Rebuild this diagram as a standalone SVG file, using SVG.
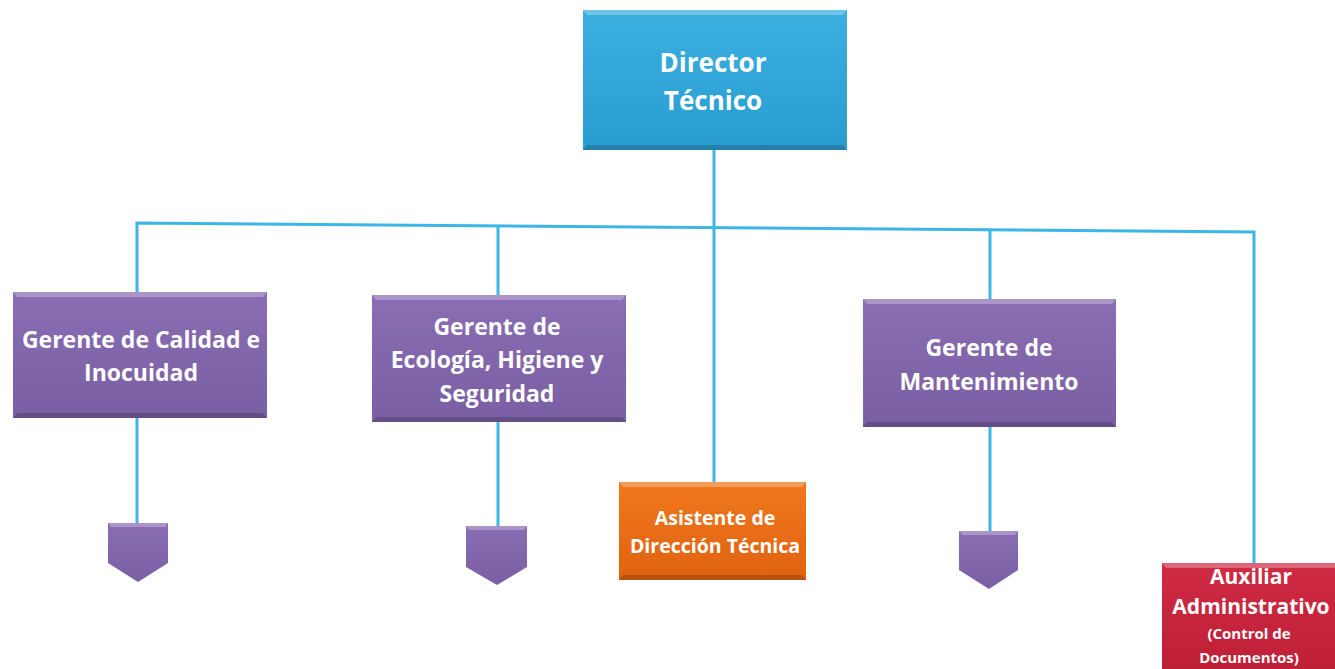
<svg xmlns="http://www.w3.org/2000/svg" width="1335" height="669" viewBox="0 0 1335 669">
<style>
.t{font-family:"Open Sans","Lato","Liberation Sans",sans-serif;font-weight:bold;fill:#ffffff;text-anchor:middle}
.c{stroke:#3cb6e6;stroke-width:3;fill:none}
.hl{fill:#ffffff;opacity:0.28}
.sh{fill:#000000;opacity:0.18}
</style>
<defs>
<linearGradient id="gb" x1="0" y1="0" x2="0" y2="1"><stop offset="0" stop-color="#3aafe0"/><stop offset="1" stop-color="#2a9dd0"/></linearGradient>
<linearGradient id="gp" x1="0" y1="0" x2="0" y2="1"><stop offset="0" stop-color="#8a6db2"/><stop offset="1" stop-color="#7a5fa5"/></linearGradient>
<linearGradient id="go" x1="0" y1="0" x2="0" y2="1"><stop offset="0" stop-color="#f0781c"/><stop offset="1" stop-color="#e0620f"/></linearGradient>
<linearGradient id="gr" x1="0" y1="0" x2="0" y2="1"><stop offset="0" stop-color="#d02a44"/><stop offset="1" stop-color="#bd1f37"/></linearGradient>
</defs>
<rect width="1335" height="669" fill="#ffffff"/>
<g id="connectors">
<path class="c" d="M714,150 V482"/>
<path class="c" d="M137,292 V223 L1254,232 V563"/>
<path class="c" d="M498,226 V295"/>
<path class="c" d="M990,230 V299"/>
<path class="c" d="M137,418 V523"/>
<path class="c" d="M498,422 V526"/>
<path class="c" d="M990,427 V531"/>
</g>
<g id="director">
<rect x="583" y="10" width="264" height="140" fill="url(#gb)"/>
<polygon class="hl" points="583,10 847,10 843,15 587,15"/>
<polygon class="sh" points="583,150 847,150 843,145 587,145"/>
<text class="t" font-size="26" x="713" y="72">Director</text>
<text class="t" font-size="26" x="713" y="110">Técnico</text>
</g>
<g id="calidad">
<rect x="13" y="292" width="254" height="126" fill="url(#gp)"/>
<polygon class="hl" points="13,292 267,292 263,297 17,297"/>
<polygon class="sh" points="13,418 267,418 263,413 17,413"/>
<text class="t" font-size="23" x="141" y="348">Gerente de Calidad e</text>
<text class="t" font-size="23" x="141" y="381">Inocuidad</text>
</g>
<g id="ecologia">
<rect x="372" y="295" width="254" height="127" fill="url(#gp)"/>
<polygon class="hl" points="372,295 626,295 622,300 376,300"/>
<polygon class="sh" points="372,422 626,422 622,417 376,417"/>
<text class="t" font-size="23" x="497" y="335">Gerente de</text>
<text class="t" font-size="23" x="497" y="368">Ecología, Higiene y</text>
<text class="t" font-size="23" x="497" y="402">Seguridad</text>
</g>
<g id="mantenimiento">
<rect x="863" y="299" width="253" height="128" fill="url(#gp)"/>
<polygon class="hl" points="863,299 1116,299 1112,304 867,304"/>
<polygon class="sh" points="863,427 1116,427 1112,422 867,422"/>
<text class="t" font-size="23" x="989" y="356">Gerente de</text>
<text class="t" font-size="23" x="989" y="390">Mantenimiento</text>
</g>
<g id="asistente">
<rect x="619" y="482" width="187" height="98" fill="url(#go)"/>
<polygon class="hl" points="619,482 806,482 802,487 623,487"/>
<polygon class="sh" points="619,580 806,580 802,575 623,575"/>
<text class="t" font-size="19.5" x="715" y="525">Asistente de</text>
<text class="t" font-size="19.5" x="715" y="553">Dirección Técnica</text>
</g>
<g id="auxiliar">
<rect x="1162" y="563" width="180" height="110" fill="url(#gr)"/>
<polygon class="hl" points="1162,563 1342,563 1342,568 1166,568"/>
<text class="t" font-size="21" x="1251" y="584">Auxiliar</text>
<text class="t" font-size="21" x="1251" y="614">Administrativo</text>
<text class="t" font-size="15" x="1249" y="639">(Control de</text>
<text class="t" font-size="15" x="1249" y="663">Documentos)</text>
</g>
<g id="sub-calidad">
<polygon points="108,523 168,523 168,563 138,582 108,563" fill="url(#gp)"/>
<polygon class="hl" points="108,523 168,523 165,527 111,527"/>
</g>
<g id="sub-ecologia">
<polygon points="466,526 527,526 527,567 497,585 466,567" fill="url(#gp)"/>
<polygon class="hl" points="466,526 527,526 524,530 469,530"/>
</g>
<g id="sub-mantenimiento">
<polygon points="959,531 1018,531 1018,570 989,589 959,570" fill="url(#gp)"/>
<polygon class="hl" points="959,531 1018,531 1015,535 962,535"/>
</g>
</svg>
